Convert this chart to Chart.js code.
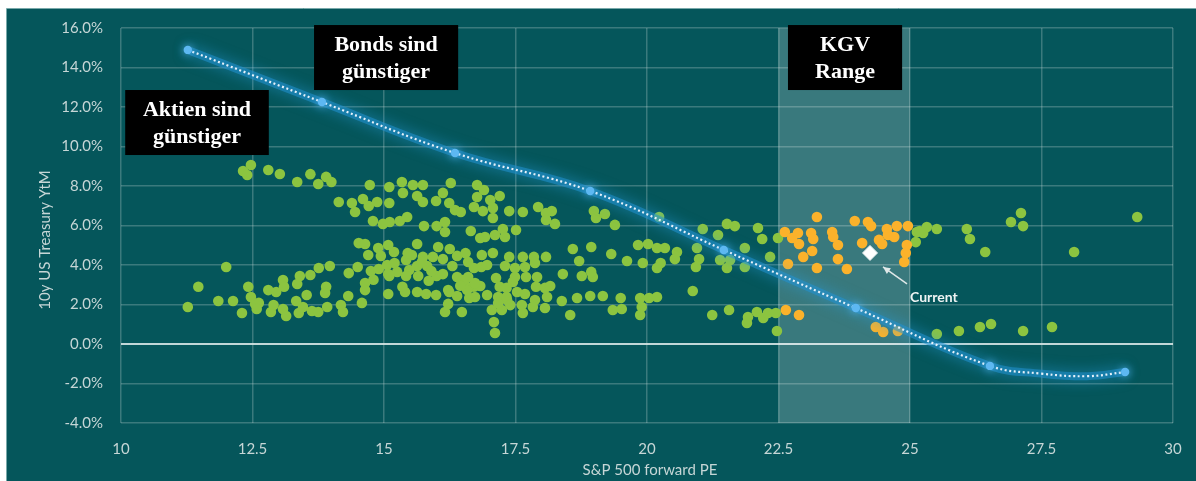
<!DOCTYPE html>
<html>
<head>
<meta charset="utf-8">
<script src="https://cdn.jsdelivr.net/npm/chart.js@4.4.1/dist/chart.umd.min.js"></script>
<style>
  html, body { margin: 0; padding: 0; background: #ffffff; }
  canvas { display: block; }
</style>
</head>
<body>
<canvas id="chart" width="1196" height="481"></canvas>
<script>
// Axis ticks
const xTicks = [10, 12.5, 15, 17.5, 20, 22.5, 25, 27.5, 30];
const yTicks = [-4, -2, 0, 2, 4, 6, 8, 10, 12, 14, 16];

// Monthly observations: forward P/E vs 10y yield (%), outside the P/E range
const greenPE = [
  12.47, 12.32, 12.40, 12.80, 13.02, 13.35, 13.60, 13.75, 12.00, 11.47, 11.27, 11.85, 12.13, 12.30, 12.42, 12.47,
  12.55, 12.62, 12.58, 12.80, 12.95, 13.08, 13.10, 12.85, 12.90, 13.08, 13.14, 13.33, 13.35, 13.40, 13.60, 13.53,
  13.46, 13.38, 13.63, 13.75, 13.76,
  13.90, 14.00, 14.14, 14.39, 14.45, 14.60, 14.71, 14.87, 14.73, 14.79, 14.98, 15.11, 15.10, 15.10, 15.34, 15.36,
  15.55, 15.63, 15.74, 15.74, 15.30, 15.44, 15.99, 16.12, 16.27, 16.24, 16.35, 16.46, 16.77, 16.90, 16.77, 16.71,
  16.88, 15.76, 16.00, 16.16, 16.16, 16.65, 16.83, 16.92, 14.52, 14.64, 14.89, 15.08, 14.70, 14.94, 15.19, 15.53,
  15.42, 15.63, 15.74, 15.93, 16.03, 16.12, 16.25, 16.39, 16.60, 16.86, 13.97, 14.50, 14.75, 14.33, 15.06, 15.25,
  15.48, 15.63, 15.82, 15.10, 15.42, 15.65, 16.00, 16.12, 16.39, 16.60, 16.71, 14.64, 14.64, 13.90, 13.88, 14.32,
  14.58, 14.18, 14.22, 13.92, 15.08, 15.40, 15.63, 15.80, 15.99, 16.24, 16.39, 16.58, 16.71, 16.62, 16.22, 16.48,
  16.16, 16.83, 16.96, 14.80, 15.45, 15.72, 16.50, 16.22, 16.58, 16.73, 16.73, 16.85, 16.96, 15.08,
  15.20, 15.90, 16.30, 16.45, 15.35, 15.85, 14.90, 16.55,
  17.45, 17.34, 17.24, 17.05,
  17.20, 17.07, 17.07, 17.38, 17.64, 17.93, 18.08, 18.19, 18.25, 18.08, 18.99, 19.03, 19.20, 19.39, 17.26, 17.11,
  17.30, 17.51, 17.07, 17.38, 17.64, 17.85, 18.08, 17.87, 17.30, 17.49, 17.68, 17.13, 17.49, 17.70, 17.91, 18.40,
  18.59, 18.71, 18.94, 19.32, 18.76, 18.97, 18.94, 19.62, 19.92, 19.83, 20.02, 20.19, 17.20, 17.33, 17.17, 17.17,
  17.33, 17.53, 17.68, 17.89, 18.06, 18.16, 18.10, 17.87, 17.62, 17.40, 17.64, 17.83, 18.06, 18.38, 18.54, 18.67,
  18.92, 19.16, 19.50, 19.35, 19.52, 19.87, 20.04, 19.90, 19.87, 17.09, 17.11, 20.19, 20.19, 17.02,
  20.23, 20.57, 20.53, 20.95, 20.93, 21.06, 20.99, 21.35, 21.39, 21.52, 21.67, 21.58, 21.52, 21.86, 21.86, 22.11,
  22.19, 22.34, 22.49, 20.87, 21.24, 21.56, 21.92, 21.90, 22.09, 22.21, 22.30, 22.45, 22.47, 20.26, 20.34,
  25.13, 25.25, 25.32, 25.51, 25.11, 25.18, 26.08, 26.14, 26.43, 26.92, 27.11, 27.15, 28.12, 29.32, 25.51, 25.93,
  26.33, 26.54, 27.15, 27.70
];
const greenYield = [
  9.06, 8.76, 8.56, 8.81, 8.61, 8.20, 8.60, 8.10, 3.90, 2.90, 1.87, 2.18, 2.18, 1.57, 2.90, 2.38,
  2.03, 2.08, 1.77, 2.73, 2.63, 3.24, 2.90, 1.62, 1.97, 1.77, 1.42, 2.18, 3.04, 3.44, 3.49, 2.48,
  1.87, 1.57, 1.67, 1.62, 3.85,
  8.46, 8.20, 7.19, 7.14, 6.68, 7.34, 6.99, 7.19, 8.05, 6.23, 6.08, 6.18, 7.14, 7.95, 8.20, 7.65,
  8.05, 7.49, 8.05, 7.19, 6.23, 6.43, 7.24, 7.65, 8.15, 7.14, 6.78, 6.68, 8.05, 7.80, 7.44, 6.94,
  6.73, 5.97, 5.97, 6.18, 5.67, 5.72, 5.37, 5.42, 5.11, 5.06, 4.86, 5.01, 4.51, 4.46, 4.66, 4.51,
  4.25, 5.06, 4.41, 4.41, 4.91, 4.30, 4.81, 4.46, 4.15, 4.51, 3.95, 3.90, 3.70, 3.59, 4.00, 3.65,
  3.75, 3.95, 3.95, 3.44, 3.44, 3.44, 3.44, 3.54, 3.39, 3.39, 3.85, 3.09, 2.73, 2.90, 2.58, 2.43,
  2.08, 1.97, 1.62, 1.87, 2.53, 2.63, 2.63, 2.53, 2.48, 2.63, 2.43, 2.90, 2.90, 2.33, 2.03, 1.62,
  1.62, 2.94, 2.48, 3.25, 4.60, 4.15, 3.24, 2.73, 2.73, 3.09, 2.38, 3.90, 4.00, 3.54,
  4.10, 3.70, 3.95, 2.95, 2.90, 3.20, 3.80, 4.60,
  3.14, 2.23, 1.72, 1.72,
  7.49, 6.89, 6.38, 6.73, 6.68, 6.94, 6.63, 6.73, 6.08, 6.28, 6.73, 6.38, 6.58, 6.03, 5.82, 5.52,
  5.42, 5.77, 4.61, 4.41, 4.41, 4.41, 4.41, 4.10, 3.95, 3.85, 3.90, 3.34, 3.39, 3.39, 3.39, 3.54,
  4.81, 4.20, 4.91, 4.56, 3.44, 3.39, 3.65, 4.20, 4.10, 5.01, 5.06, 3.85, 2.90, 2.84, 2.38, 2.08,
  2.38, 2.63, 2.53, 2.90, 2.84, 2.94, 2.38, 2.23, 1.97, 1.97, 1.57, 1.87, 1.82, 2.18, 1.47, 2.33,
  2.43, 2.43, 2.33, 1.72, 1.77, 2.33, 2.33, 1.87, 1.47, 1.11, 0.56, 4.86, 2.38, 7.29,
  6.43, 4.66, 4.30, 4.86, 3.90, 5.82, 4.30, 5.52, 4.25, 6.08, 5.97, 4.25, 3.85, 4.86, 3.90, 5.87,
  5.32, 4.41, 5.37, 2.68, 1.47, 1.72, 1.37, 1.06, 1.62, 1.32, 1.57, 1.57, 0.66, 4.10, 4.86,
  5.67, 5.62, 5.92, 5.82, 5.16, 5.72, 5.82, 5.32, 4.66, 6.18, 6.63, 5.97, 4.66, 6.43, 0.51, 0.66,
  0.86, 1.01, 0.66, 0.86
];

// Observations inside the 22.5–25 P/E range
const orangePE = [
  23.23, 22.62, 22.76, 22.87, 22.89, 23.12, 23.16, 23.14, 22.97, 22.68, 23.23, 23.52, 23.54, 23.63, 23.63, 23.80,
  23.95, 24.20, 24.26, 24.09, 24.41, 24.56, 24.58, 24.70, 24.47, 24.75, 24.96, 24.94, 24.92, 24.89, 22.64, 22.89,
  24.35, 24.49, 24.77
];
const orangeYield = [
  6.43, 5.67, 5.37, 5.62, 5.06, 5.62, 5.32, 4.71, 4.41, 4.05, 3.85, 5.67, 5.42, 5.01, 4.30, 3.80,
  6.23, 6.18, 5.97, 5.11, 5.27, 5.82, 5.52, 5.42, 5.06, 5.97, 5.97, 5.01, 4.61, 4.15, 1.72, 1.47,
  0.86, 0.61, 0.66
];

// Latest reading
const currentPE = [24.24];
const currentYield = [4.61];

// Fitted trend: highlighted knots, and the smoothed path through them
const knotPE = [11.27, 13.82, 16.35, 18.92, 21.46, 23.97, 26.52, 29.09];
const knotYield = [14.89, 12.25, 9.67, 7.75, 4.76, 1.82, -1.11, -1.42];
const trendPE = [11.27, 13.82, 16.35, 18.92, 21.46, 23.97, 26.52, 27.50, 28.37, 29.09];
const trendYield = [14.89, 12.25, 9.67, 7.75, 4.76, 1.82, -1.11, -1.50, -1.63, -1.42];

// Range band and captions
const bandFrom = 22.5, bandTo = 25;
const captions = [
  { lines: ['Aktien sind', 'günstiger'], left: 10.08, right: 12.81, top: 12.86 },
  { lines: ['Bonds sind', 'günstiger'], left: 13.67, right: 16.41, top: 16.15 },
  { lines: ['KGV', 'Range'], left: 22.68, right: 24.85, top: 16.15 }
];
const xTitle = 'S&P 500 forward PE';
const yTitle = '10y US Treasury YtM';
const currentLabel = 'Current';

const pts = (xs, ys) => xs.map((x, i) => ({ x: x, y: ys[i] }));

const TEAL = '#05565b';
const TICK_COLOR = '#c6d6d6';
const GRID_COLOR = 'rgba(200,215,215,0.28)';
const FONT = 'Lato, "Open Sans", sans-serif';

const frame = {
  id: 'frame',
  beforeDraw(chart) {
    const { ctx, width, height } = chart;
    ctx.save();
    ctx.fillStyle = '#ffffff';
    ctx.fillRect(0, 0, width, height);
    ctx.fillStyle = TEAL;
    ctx.fillRect(6, 8, width - 6, height - 8);
    ctx.strokeStyle = 'rgba(150,190,190,0.8)';
    ctx.lineWidth = 1;
    ctx.beginPath();
    ctx.moveTo(6, 8.5); ctx.lineTo(width, 8.5);
    ctx.moveTo(6.5, 8); ctx.lineTo(6.5, height);
    ctx.stroke();
    ctx.restore();
  },
  beforeDatasetsDraw(chart) {
    const { ctx, chartArea, scales } = chart;
    const x0 = scales.x.getPixelForValue(bandFrom);
    const x1 = scales.x.getPixelForValue(bandTo);
    ctx.save();
    ctx.fillStyle = 'rgba(255,255,255,0.21)';
    ctx.fillRect(x0, chartArea.top, x1 - x0, chartArea.bottom - chartArea.top);
    ctx.restore();
  }
};

const glow = {
  id: 'glow',
  beforeDatasetDraw(chart, args) {
    const ds = chart.data.datasets[args.index];
    if (ds.glowColor) {
      chart.ctx.save();
      chart.ctx.shadowColor = ds.glowColor;
      chart.ctx.shadowBlur = ds.glowBlur;
    }
  },
  afterDatasetDraw(chart, args) {
    const ds = chart.data.datasets[args.index];
    if (ds.glowColor) chart.ctx.restore();
  }
};

const overlay = {
  id: 'overlay',
  afterDraw(chart) {
    const { ctx, scales, chartArea } = chart;
    const sx = scales.x, sy = scales.y;
    ctx.save();

    // caption boxes
    ctx.font = 'bold 22px "Liberation Serif", "Times New Roman", serif';
    ctx.textAlign = 'center';
    ctx.textBaseline = 'alphabetic';
    captions.forEach(c => {
      const l = sx.getPixelForValue(c.left);
      const r = sx.getPixelForValue(c.right);
      const t = sy.getPixelForValue(c.top);
      ctx.fillStyle = '#000000';
      ctx.fillRect(l, t, r - l, 65);
      ctx.fillStyle = '#ffffff';
      ctx.fillText(c.lines[0], (l + r) / 2, t + 26);
      ctx.fillText(c.lines[1], (l + r) / 2, t + 53);
    });

    // current marker callout
    const cx = sx.getPixelForValue(currentPE[0]);
    const cy = sy.getPixelForValue(currentYield[0]);
    const tipX = cx + 13, tipY = cy + 14, tailX = cx + 37, tailY = cy + 31;
    ctx.strokeStyle = '#dfe8e8';
    ctx.fillStyle = '#dfe8e8';
    ctx.lineWidth = 1.5;
    ctx.beginPath();
    ctx.moveTo(tailX, tailY);
    ctx.lineTo(tipX, tipY);
    ctx.stroke();
    const ang = Math.atan2(tipY - tailY, tipX - tailX);
    ctx.beginPath();
    ctx.moveTo(tipX, tipY);
    ctx.lineTo(tipX - 8 * Math.cos(ang - 0.45), tipY - 8 * Math.sin(ang - 0.45));
    ctx.lineTo(tipX - 8 * Math.cos(ang + 0.45), tipY - 8 * Math.sin(ang + 0.45));
    ctx.closePath();
    ctx.fill();
    ctx.font = 'bold 14px ' + FONT;
    ctx.textAlign = 'left';
    ctx.fillStyle = '#eef3f3';
    ctx.fillText(currentLabel, cx + 40, cy + 49);

    // axis titles
    ctx.fillStyle = TICK_COLOR;
    ctx.font = '15px ' + FONT;
    ctx.textAlign = 'center';
    ctx.textBaseline = 'middle';
    ctx.fillText(xTitle, (chartArea.left + chartArea.right) / 2 + 3, 470);
    ctx.translate(45, 240);
    ctx.rotate(-Math.PI / 2);
    ctx.fillText(yTitle, 0, 0);
    ctx.restore();
  }
};

new Chart(document.getElementById('chart'), {
  type: 'scatter',
  data: {
    datasets: [
      {
        label: 'Current',
        data: pts(currentPE, currentYield),
        pointStyle: 'rectRot',
        pointRadius: 7.5,
        backgroundColor: '#ffffff',
        borderColor: '#e8f0f0',
        borderWidth: 1
      },
      {
        label: 'Trend knots',
        data: pts(knotPE, knotYield),
        pointRadius: 4.2,
        backgroundColor: '#5db8f2',
        borderWidth: 0,
        glowColor: 'rgba(90,190,255,0.95)',
        glowBlur: 8
      },
      {
        label: 'Trend',
        data: pts(trendPE, trendYield),
        showLine: true,
        tension: 0.4,
        pointRadius: 0,
        borderColor: 'rgba(240,248,255,0.95)',
        borderWidth: 2.2,
        borderDash: [2, 2.6],
        borderCapStyle: 'butt'
      },
      {
        label: 'Trend glow',
        data: pts(trendPE, trendYield),
        showLine: true,
        tension: 0.4,
        pointRadius: 0,
        borderColor: 'rgba(35,145,210,0.55)',
        borderWidth: 8,
        glowColor: 'rgba(40,165,235,0.95)',
        glowBlur: 14
      },
      {
        label: 'In range',
        data: pts(orangePE, orangeYield),
        pointRadius: 5.3,
        backgroundColor: '#fbb22b',
        borderWidth: 0
      },
      {
        label: 'Out of range',
        data: pts(greenPE, greenYield),
        pointRadius: 5.3,
        backgroundColor: '#8cc440',
        borderWidth: 0
      }
    ]
  },
  options: {
    responsive: false,
    animation: false,
    events: [],
    layout: { padding: { left: 0, top: 28, right: 23, bottom: 0 } },
    plugins: { legend: { display: false }, tooltip: { enabled: false } },
    scales: {
      x: {
        type: 'linear',
        min: 10,
        max: 30,
        afterBuildTicks: s => { s.ticks = xTicks.map(v => ({ value: v })); },
        afterFit: s => { s.height = 58; s.paddingLeft = 0; s.paddingRight = 0; },
        ticks: {
          color: TICK_COLOR,
          font: { family: FONT, size: 15 },
          padding: 17,
          maxRotation: 0,
          autoSkip: false,
          callback: v => String(v)
        },
        grid: { color: GRID_COLOR, lineWidth: 1.5, drawTicks: false },
        border: { display: false }
      },
      y: {
        type: 'linear',
        min: -4,
        max: 16,
        afterBuildTicks: s => { s.ticks = yTicks.map(v => ({ value: v })); },
        afterFit: s => { s.width = 121; s.paddingTop = 0; s.paddingBottom = 0; },
        ticks: {
          color: TICK_COLOR,
          font: { family: FONT, size: 15 },
          padding: 18,
          autoSkip: false,
          callback: v => v.toFixed(1) + '%'
        },
        grid: {
          color: c => (c.tick && c.tick.value === 0) ? 'rgba(215,230,230,0.9)' : GRID_COLOR,
          lineWidth: c => (c.tick && c.tick.value === 0) ? 2 : 1.5,
          drawTicks: false
        },
        border: { display: false }
      }
    }
  },
  plugins: [frame, glow, overlay]
});
</script>
</body>
</html>
